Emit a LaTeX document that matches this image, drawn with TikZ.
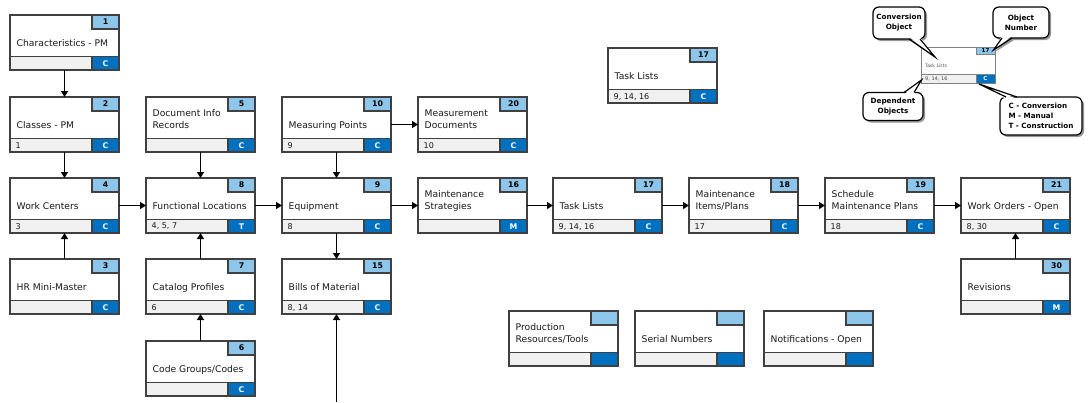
\documentclass[tikz,border=0pt]{standalone}
\usepackage{fontspec}
\setmainfont{DejaVu Sans}
\usetikzlibrary{arrows.meta,shadows}
\definecolor{tabblue}{RGB}{142,197,234}
\definecolor{codeblue}{RGB}{0,112,192}
\definecolor{stripgray}{RGB}{240,240,240}
\definecolor{bordergray}{RGB}{64,64,64}
\definecolor{lggray}{RGB}{128,128,128}
\definecolor{shadowgray}{RGB}{150,150,150}
\tikzset{
  objbox/.style={draw=bordergray, line width=1.2pt, fill=white, minimum width=109pt, minimum height=55pt, inner sep=0pt, outer sep=0pt},
  tabbox/.style={draw=bordergray, line width=1.2pt, fill=tabblue, minimum width=27pt, minimum height=14pt, inner sep=0pt, font=\fontsize{7.8}{9}\selectfont\bfseries},
  codebox/.style={draw=bordergray, line width=1.2pt, fill=codeblue, text=white, minimum width=27pt, minimum height=13.5pt, inner sep=0pt, font=\fontsize{7.8}{9}\selectfont\bfseries},
  lbl/.style={inner sep=0pt, font=\fontsize{9.2}{11}\selectfont, text=black!90},
  deplbl/.style={inner sep=0pt, font=\fontsize{8}{9}\selectfont, text=black!90},
  borderline/.style={draw=bordergray, line width=1.2pt},
  arr/.style={line width=1.2pt, -{Triangle[width=7pt,length=6pt]}},
  callbox/.style={draw=black, line width=1.2pt, fill=white, rounded corners=6pt, inner sep=1pt, align=center,
    drop shadow={shadow xshift=2pt, shadow yshift=-2pt, fill=shadowgray, opacity=1},
    font=\fontsize{7.2}{10}\selectfont\bfseries},
  callline/.style={draw=black, line width=1.2pt, line join=miter},
  lgbox/.style={draw=lggray, line width=0.8pt, fill=white, minimum width=73.5pt, minimum height=36pt, inner sep=0pt, outer sep=0pt},
  lgline/.style={draw=lggray, line width=0.8pt},
  lgtab/.style={draw=lggray, line width=0.8pt, fill=tabblue, minimum width=19pt, minimum height=7.4pt, inner sep=0pt, font=\fontsize{5.5}{6}\selectfont\bfseries},
  lgcode/.style={draw=lggray, line width=0.8pt, fill=codeblue, text=white, minimum width=19pt, minimum height=8.7pt, inner sep=0pt, font=\fontsize{5.5}{6}\selectfont\bfseries},
  lglbl/.style={inner sep=0pt, font=\fontsize{4.6}{5}\selectfont, text=black!70},
}
% #1 name, #2 left, #3 top, #4 number, #5 first line, #6 last line, #7 dependents, #8 code
\newcommand{\obox}[8]{%
  \node[objbox] (#1) at (#2+54.5,#3+27.5) {};
  \fill[stripgray] (#2,#3+41.5) rectangle (#2+109,#3+55);
  \draw[borderline] (#2,#3+41.5) -- (#2+109,#3+41.5);
  \node[tabbox] (#1-num) at (#2+95.5,#3+7) {#4};
  \node[codebox] (#1-code) at (#2+95.5,#3+48.25) {#8};
  \node[lbl, anchor=base west] (#1-la) at (#2+6.5,#3+19) {#5};
  \node[lbl, anchor=base west] (#1-lb) at (#2+6.5,#3+31.5) {#6};
  \node[deplbl, anchor=west] (#1-dep) at (#2+5.5,#3+48.5) {#7};
  \draw[borderline] (#1.north west) rectangle (#1.south east);
}
\begin{document}
\begin{tikzpicture}[x=1pt,y=-1pt]
\useasboundingbox[fill=white] (0,0) rectangle (1088,402);

\obox{b1}{10}{15}{1}{}{Characteristics - PM}{}{C}
\obox{b2}{10}{97}{2}{}{Classes - PM}{1}{C}
\obox{b4}{10}{178}{4}{}{Work Centers}{3}{C}
\obox{b3}{10}{259}{3}{}{HR Mini-Master}{}{C}
\obox{b5}{146}{97}{5}{Document Info}{Records}{}{C}
\obox{b8}{146}{178}{8}{}{Functional Locations}{4, 5, 7}{T}
\obox{b7}{146}{259}{7}{}{Catalog Profiles}{6}{C}
\obox{b6}{146}{341}{6}{}{Code Groups/Codes}{}{C}
\obox{b10}{282}{97}{10}{}{Measuring Points}{9}{C}
\obox{b9}{282}{178}{9}{}{Equipment}{8}{C}
\obox{b15}{282}{259}{15}{}{Bills of Material}{8, 14}{C}
\obox{b20}{418}{97}{20}{Measurement}{Documents}{10}{C}
\obox{b16}{418}{178}{16}{Maintenance}{Strategies}{}{M}
\obox{b17}{553}{178}{17}{}{Task Lists}{9, 14, 16}{C}
\obox{b18}{689}{178}{18}{Maintenance}{Items/Plans}{17}{C}
\obox{b19}{825}{178}{19}{Schedule}{Maintenance Plans}{18}{C}
\obox{b21}{961}{178}{21}{}{Work Orders - Open}{8, 30}{C}
\obox{b30}{961}{259}{30}{}{Revisions}{}{M}
\obox{b17t}{608}{48}{17}{}{Task Lists}{9, 14, 16}{C}
\obox{bpr}{509}{311}{}{Production}{Resources/Tools}{}{}
\obox{bsn}{635}{311}{}{}{Serial Numbers}{}{}
\obox{bno}{764}{311}{}{}{Notifications - Open}{}{}

% connectors
\draw[arr] (b1.south) -- (b2.north);
\draw[arr] (b2.south) -- (b4.north);
\draw[arr] (b3.north) -- (b4.south);
\draw[arr] (b5.south) -- (b8.north);
\draw[arr] (b7.north) -- (b8.south);
\draw[arr] (b6.north) -- (b7.south);
\draw[arr] (b4.east) -- (b8.west);
\draw[arr] (b8.east) -- (b9.west);
\draw[arr] (b10.south) -- (b9.north);
\draw[arr] (b10.east) -- (b20.west);
\draw[arr] (b9.south) -- (b15.north);
\coordinate (bomin) at (336.5,402);
\draw[arr] (bomin) -- (b15.south);
\draw[arr] (b9.east) -- (b16.west);
\draw[arr] (b16.east) -- (b17.west);
\draw[arr] (b17.east) -- (b18.west);
\draw[arr] (b18.east) -- (b19.west);
\draw[arr] (b19.east) -- (b21.west);
\draw[arr] (b30.north) -- (b21.south);

% legend box
\node[lgbox] (lg) at (958.25,65) {};
\fill[stripgray] (921.5,74.3) rectangle (995,83);
\draw[lgline] (921.5,74.3) -- (995,74.3);
\node[lgtab] (lgnum) at (985.5,50.7) {17};
\node[lgcode] (lgcode) at (985.5,78.65) {C};
\node[lglbl, anchor=base west] (lgname) at (925,67) {Task Lists};
\node[lglbl, anchor=west, font=\fontsize{5}{6}\selectfont] (lgdep) at (925,78.9) {9, 14, 16};
\draw[lgline] (lg.north west) rectangle (lg.south east);

% callouts
\coordinate (cotip) at (935,57);
\coordinate (ontip) at (993.5,50);
\coordinate (dotip) at (921.5,80);
\coordinate (cdtip) at (979,84);

\fill[shadowgray] (911,41) -- (937,59) -- (922,41) -- cycle;
\node[callbox, minimum width=52pt, minimum height=32pt] (cobj) at (899,23) {Conversion\\Object};
\fill[white] (909,37) -- (cotip) -- (920,37) -- cycle;
\draw[callline] (909,39) -- (cotip) -- (920,39);

\fill[shadowgray] (1004,40) -- (995,52) -- (1014,40) -- cycle;
\node[callbox, minimum width=56pt, minimum height=31pt] (onum) at (1021,22.5) {Object\\Number};
\fill[white] (1002,36) -- (ontip) -- (1012,36) -- cycle;
\draw[callline] (1002,38) -- (ontip) -- (1012,38);

\node[callbox, minimum width=60pt, minimum height=28pt] (dobj) at (893,106.5) {Dependent\\Objects};
\fill[white] (904,94.5) -- (dotip) -- (914,94.5) -- cycle;
\draw[callline] (904,92.5) -- (dotip) -- (914,92.5);

\node[callbox, minimum width=82pt, minimum height=38pt, align=left] (codes) at (1041,116) {C - Conversion\\M - Manual\\T - Construction};
\fill[white] (1006,99) -- (cdtip) -- (1017,99) -- cycle;
\draw[callline] (1006,97) -- (cdtip) -- (1017,97);
\end{tikzpicture}
\end{document}
